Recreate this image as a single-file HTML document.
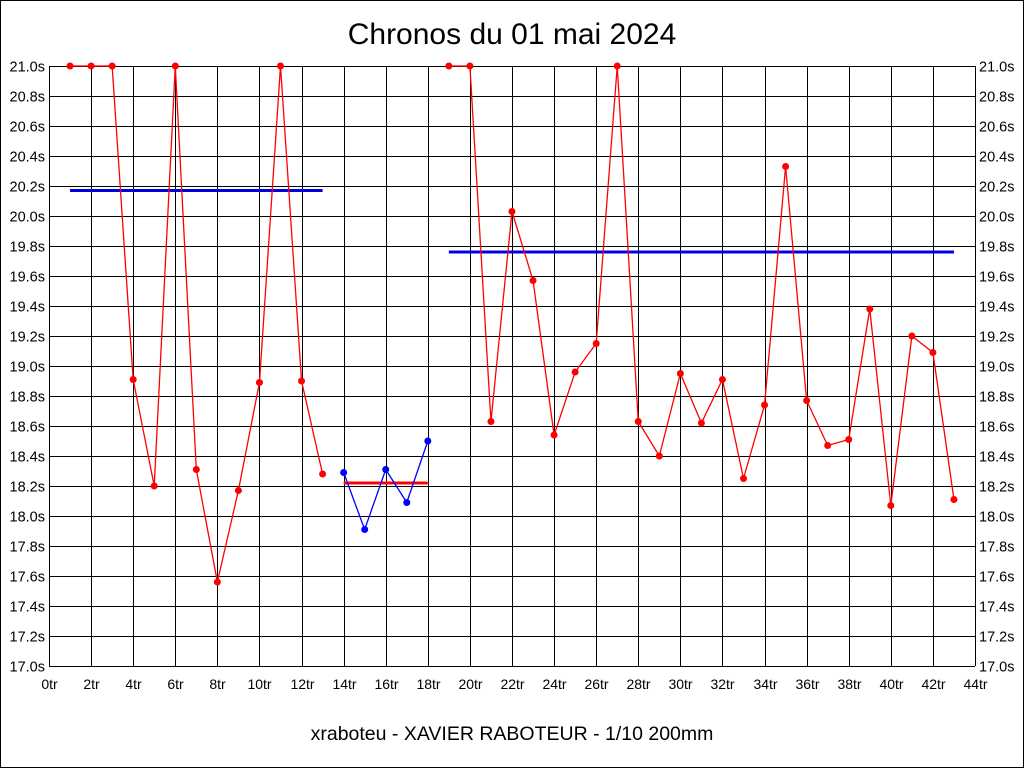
<!DOCTYPE html>
<html><head><meta charset="utf-8"><style>
html,body{margin:0;padding:0;background:#fff}
svg{display:block}
text{font-family:"Liberation Sans",sans-serif}
</style></head><body>
<svg id="c" width="1024" height="768">
<rect x="0.5" y="0.5" width="1023" height="767" fill="#fff" stroke="#000"/>
<text x="512" y="44" font-size="30" text-anchor="middle">Chronos du 01 mai 2024</text>
<text x="512" y="740" font-size="19.5" text-anchor="middle">xraboteu - XAVIER RABOTEUR - 1/10 200mm</text>
<g id="g"></g>
</svg>
<script>
const seg1X=[1,2,3,4,5,6,7,8,9,10,11,12,13];
const seg1Y=[21.0,21.0,21.0,18.91,18.2,21.0,18.31,17.56,18.17,18.89,21.0,18.9,18.28];
const seg2X=[14,15,16,17,18];
const seg2Y=[18.29,17.91,18.31,18.09,18.5];
const seg3X=[19,20,21,22,23,24,25,26,27,28,29,30,31,32,33,34,35,36,37,38,39,40,41,42,43];
const seg3Y=[21.0,21.0,18.63,20.03,19.57,18.54,18.96,19.15,21.0,18.63,18.4,18.95,18.62,18.91,18.25,18.74,20.33,18.77,18.47,18.51,19.38,18.07,19.2,19.09,18.11];
const meanX1=[1,13],meanV1=20.17;
const meanX2=[14,18],meanV2=18.22;
const meanX3=[19,43],meanV3=19.76;
const yTicks=[17.0,17.2,17.4,17.6,17.8,18.0,18.2,18.4,18.6,18.8,19.0,19.2,19.4,19.6,19.8,20.0,20.2,20.4,20.6,20.8,21.0];
const xTicks=[0,2,4,6,8,10,12,14,16,18,20,22,24,26,28,30,32,34,36,38,40,42,44];
const L=49,R=975,T=66,B=666;
const xs=v=>L+(v-0)/44*(R-L);
const ys=v=>B-(v-17)/4*(B-T);
const g=document.getElementById('g');
const NS='http://www.w3.org/2000/svg';
function mk(t,a){const e=document.createElementNS(NS,t);for(const k in a)e.setAttribute(k,a[k]);g.appendChild(e);return e;}
yTicks.forEach(v=>{const y=Math.round(ys(v))+0.5;
 let l=mk('line',{x1:L,x2:R,y1:y,y2:y,stroke:'#000'});
 
 
 let t=mk('text',{x:L-4,y:y+5,'font-size':14.5,'text-anchor':'end'});t.textContent=v.toFixed(1)+'s';
 
 
 let t2=mk('text',{x:R+4,y:y+5,'font-size':14.5});t2.textContent=v.toFixed(1)+'s';
 
 
});
xTicks.forEach(v=>{const x=Math.round(xs(v))+0.5;
 let l=mk('line',{x1:x,x2:x,y1:T,y2:B,stroke:'#000'});
 
 
 let t=mk('text',{x:x,y:B+23,'font-size':14,'text-anchor':'middle'});t.textContent=v+'tr';
 
 
});
function mean(xr,v,c,n){let l=mk('line',{x1:xs(xr[0]),x2:xs(xr[1]),y1:ys(v),y2:ys(v),stroke:c,'stroke-width':3});
 
 }
mean(meanX1,meanV1,'#0000dd','mean-line-1');
mean(meanX2,meanV2,'#ff0000','mean-line-2');
mean(meanX3,meanV3,'#0000dd','mean-line-3');
function series(X,Y,c,n){
 let p=mk('polyline',{points:X.map((x,i)=>xs(x)+','+ys(Y[i])).join(' '),fill:'none',stroke:c,'stroke-width':1.3});
 
 
 X.forEach((x,i)=>{let d=mk('circle',{cx:xs(x),cy:ys(Y[i]),r:3.5,fill:c});
  
  });
}
series(seg1X,seg1Y,'#ff0000','series-1');
series(seg2X,seg2Y,'#0000ff','series-2');
series(seg3X,seg3Y,'#ff0000','series-3');
</script>
</body></html>
